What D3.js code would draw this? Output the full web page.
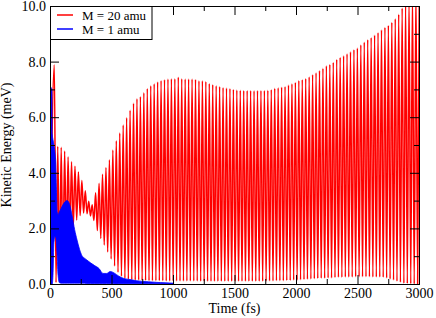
<!DOCTYPE html>
<html>
<head>
<meta charset="utf-8">
<script src="https://cdn.jsdelivr.net/npm/d3@7"></script>
<style>
body { margin: 0; background: #fff; }
text { font-family: 'Liberation Serif', 'Times New Roman', Times, 'DejaVu Serif', serif; }
</style>
</head>
<body>
<svg></svg>
<script>
// tick values
let xTicks = [0, 500, 1000, 1500, 2000, 2500, 3000]
let xMinorTicks = [250, 750, 1250, 1750, 2250, 2750]
let yTicks = [0, 2, 4, 6, 8, 10]
let yMinorTicks = [1, 3, 5, 7, 9]

let seriesNames = ['M = 20 amu', 'M = 1 amu']
let seriesColors = ['#ff0000', '#0000ff']

// M = 20 amu : kinetic energy peaks and troughs, one per half period (fs grid)
let redStart = 35
let redPeriod = 28
let redPeaks = [
    7.88, 4.95, 4.92, 4.78, 4.58, 4.40, 4.24, 4.03, 3.72, 3.35,
    2.98, 2.85, 3.28, 3.62, 3.95, 4.19, 4.47, 4.82, 5.15, 5.43,
    5.72, 5.98, 6.25, 6.50, 6.66, 6.74, 6.88, 7.03, 7.13, 7.20,
    7.27, 7.32, 7.35, 7.37, 7.38, 7.38, 7.44, 7.38, 7.37, 7.37,
    7.37, 7.36, 7.31, 7.31, 7.28, 7.21, 7.17, 7.13, 7.10, 7.07,
    7.05, 7.03, 7.00, 6.98, 6.97, 6.96, 6.96, 6.96, 6.95, 6.96,
    6.96, 6.96, 6.97, 6.99, 7.04, 7.06, 7.08, 7.10, 7.16, 7.20,
    7.25, 7.32, 7.35, 7.39, 7.45, 7.53, 7.60, 7.68, 7.76, 7.85,
    7.90, 7.97, 8.08, 8.15, 8.21, 8.28, 8.35, 8.43, 8.49, 8.60,
    8.70, 8.79, 8.86, 8.95, 9.04, 9.14, 9.23, 9.30, 9.41, 9.54,
    9.70, 9.92, 10.10, 10.25, 10.40, 10.55, 10.70
]
let redTroughs = [
    0.05, 0.20, 0.65, 1.20, 1.65, 2.02, 2.30, 2.46, 2.55, 2.53,
    2.45, 2.28, 1.92, 1.64, 1.40, 1.15, 0.90, 0.65, 0.42, 0.28,
    0.21, 0.17, 0.15, 0.14, 0.14, 0.13, 0.13, 0.12, 0.12, 0.12,
    0.12, 0.12, 0.11, 0.11, 0.11, 0.11, 0.11, 0.11, 0.11, 0.11,
    0.11, 0.11, 0.10, 0.10, 0.10, 0.10, 0.10, 0.10, 0.10, 0.10,
    0.10, 0.10, 0.10, 0.10, 0.10, 0.10, 0.10, 0.10, 0.10, 0.10,
    0.10, 0.11, 0.11, 0.11, 0.12, 0.12, 0.12, 0.13, 0.13, 0.14,
    0.14, 0.15, 0.16, 0.17, 0.18, 0.19, 0.20, 0.21, 0.21, 0.22,
    0.22, 0.23, 0.24, 0.24, 0.25, 0.25, 0.25, 0.26, 0.26, 0.26,
    0.26, 0.26, 0.25, 0.25, 0.25, 0.24, 0.22, 0.18, 0.14, 0.10,
    0.06, 0.03, 0.02, 0.01, 0.00, 0.00
]

// M = 1 amu : fast oscillation, kept as upper / lower envelope
let blueTimes = [0, 4, 10, 16, 18, 24, 32, 40, 46, 52,
    58, 66, 76, 90, 105, 120, 140, 160, 180, 200,
    220, 240, 260, 280, 300, 330, 360, 400, 430, 460,
    490, 520, 560, 600, 650, 700, 800, 900, 1000]
let blueUpper = [7.1, 7.1, 7.05, 7.0, 5.4, 5.2, 5.0, 4.75, 4.4, 3.4,
    2.6, 2.5, 2.6, 2.72, 2.85, 2.95, 3.0, 2.85, 2.45, 1.96,
    1.58, 1.25, 1.02, 0.93, 0.86, 0.76, 0.67, 0.55, 0.38, 0.38,
    0.45, 0.4, 0.28, 0.2, 0.16, 0.12, 0.08, 0.05, 0.03]
let blueLower = [0, 0, 0, 0, 0, 0.3, 1.5, 1.7, 1.7, 1.5,
    1.0, 0.3, 0.05, 0.03, 0.03, 0.03, 0.03, 0.03, 0.03, 0.03,
    0.03, 0.03, 0.03, 0.03, 0.02, 0.02, 0.02, 0.02, 0.02, 0.02,
    0.02, 0.02, 0.01, 0.01, 0.01, 0.01, 0.01, 0.01, 0.0]

let width = 436
let height = 318
let plotLeft = 50
let plotRight = 419
let plotTop = 6
let plotBottom = 284

let svg = d3.select('svg')
    .attr('width', width)
    .attr('height', height)

let xScale = d3.scaleLinear().domain([0, 3000]).range([plotLeft, plotRight])
let yScale = d3.scaleLinear().domain([0, 10]).range([plotBottom, plotTop])

svg.append('clipPath')
    .attr('id', 'plot-clip')
    .append('rect')
    .attr('x', plotLeft)
    .attr('y', plotTop)
    .attr('width', plotRight - plotLeft)
    .attr('height', plotBottom - plotTop)

// red series points
let redPoints = [[0, 0]]
redPeaks.forEach((p, i) => {
    let t = redStart + i * redPeriod
    redPoints.push([t, p])
    if (i < redTroughs.length) {
        redPoints.push([t + redPeriod / 2, redTroughs[i]])
    }
})

let plot = svg.append('g').attr('clip-path', 'url(#plot-clip)')

let line = d3.line()
    .x(d => xScale(d[0]))
    .y(d => yScale(d[1]))
    .curve(d3.curveMonotoneX)

plot.append('path')
    .datum(redPoints)
    .attr('fill', 'none')
    .attr('stroke', seriesColors[0])
    .attr('stroke-width', 1.5)
    .attr('d', line)

let area = d3.area()
    .x((d, i) => xScale(blueTimes[i]))
    .y0((d, i) => yScale(blueLower[i]))
    .y1((d, i) => yScale(blueUpper[i]))
    .curve(d3.curveMonotoneX)

plot.append('path')
    .datum(blueTimes)
    .attr('fill', seriesColors[1])
    .attr('stroke', seriesColors[1])
    .attr('stroke-width', 0.8)
    .attr('d', area)

// axes
let drawAxis = (axis, transform, labels) => {
    let g = svg.append('g')
        .attr('transform', transform)
        .call(axis)
    g.select('.domain').remove()
    g.selectAll('.tick line').attr('stroke', '#000')
    g.selectAll('text')
        .attr('fill', '#000')
        .style('font-size', '14px')
        .style('font-family', "'Liberation Serif', 'Times New Roman', serif")
    if (!labels) g.selectAll('text').remove()
    return g
}

drawAxis(d3.axisBottom(xScale).tickValues(xTicks).tickSize(-9).tickPadding(4).tickFormat(d3.format('d')),
    'translate(0,' + plotBottom + ')', true)
drawAxis(d3.axisBottom(xScale).tickValues(xMinorTicks).tickSize(-5),
    'translate(0,' + plotBottom + ')', false)
drawAxis(d3.axisTop(xScale).tickValues(xTicks).tickSize(-9),
    'translate(0,' + plotTop + ')', false)
drawAxis(d3.axisTop(xScale).tickValues(xMinorTicks).tickSize(-5),
    'translate(0,' + plotTop + ')', false)

drawAxis(d3.axisLeft(yScale).tickValues(yTicks).tickSize(-9).tickPadding(4).tickFormat(d3.format('.1f')),
    'translate(' + plotLeft + ',0)', true)
drawAxis(d3.axisLeft(yScale).tickValues(yMinorTicks).tickSize(-5),
    'translate(' + plotLeft + ',0)', false)
drawAxis(d3.axisRight(yScale).tickValues(yTicks).tickSize(-9),
    'translate(' + plotRight + ',0)', false)
drawAxis(d3.axisRight(yScale).tickValues(yMinorTicks).tickSize(-5),
    'translate(' + plotRight + ',0)', false)

svg.append('rect')
    .attr('x', plotLeft + 0.5)
    .attr('y', plotTop + 0.5)
    .attr('width', plotRight - plotLeft)
    .attr('height', plotBottom - plotTop)
    .attr('fill', 'none')
    .attr('stroke', '#000')

// legend
let legend = svg.append('g')
legend.append('rect')
    .attr('x', plotLeft + 0.5)
    .attr('y', plotTop + 0.5)
    .attr('width', 101.5)
    .attr('height', 33)
    .attr('fill', '#fff')
    .attr('stroke', '#000')

seriesNames.forEach((name, i) => {
    let y = 15 + i * 14
    legend.append('line')
        .attr('x1', 57)
        .attr('x2', 73)
        .attr('y1', y)
        .attr('y2', y)
        .attr('stroke', seriesColors[i])
        .attr('stroke-width', 1.5)
    legend.append('text')
        .attr('x', 82)
        .attr('y', y + 4.5)
        .style('font-size', '13px')
        .text(name)
})

svg.append('text')
    .attr('x', (plotLeft + plotRight) / 2)
    .attr('y', 313)
    .attr('text-anchor', 'middle')
    .style('font-size', '14px')
    .text('Time (fs)')

svg.append('text')
    .attr('transform', 'rotate(-90)')
    .attr('x', -(plotTop + plotBottom) / 2)
    .attr('y', 11)
    .attr('text-anchor', 'middle')
    .style('font-size', '14px')
    .text('Kinetic Energy (meV)')
</script>
</body>
</html>
